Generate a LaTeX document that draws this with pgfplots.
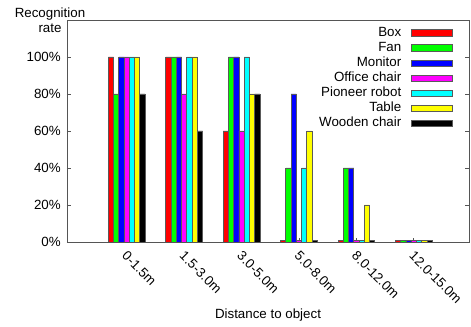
\documentclass[border=0pt]{standalone}
\usepackage{pgfplots}
\pgfplotsset{compat=1.18}
\usepackage{fontspec}
\setmainfont{Liberation Sans}
\definecolor{framegray}{RGB}{85,85,85}
\definecolor{bargray}{RGB}{90,90,90}
\definecolor{cRed}{RGB}{255,0,0}
\definecolor{cGreen}{RGB}{0,255,0}
\definecolor{cBlue}{RGB}{0,0,255}
\definecolor{cMagenta}{RGB}{255,0,255}
\definecolor{cCyan}{RGB}{0,255,255}
\definecolor{cYellow}{RGB}{255,255,0}
\definecolor{cBlack}{RGB}{0,0,0}
\pgfplotsset{
  mylegend/.style={legend image code/.code={\draw[##1, draw=bargray, line width=0.6pt] (0pt,-2.5pt) rectangle (30.75pt,2.5pt);}},
}
\begin{document}
\begin{tikzpicture}
\begin{axis}[
  name=ax,
  scale only axis, width=301.5pt, height=166.5pt,
  xmin=-1.04, xmax=5.96, ymin=0, ymax=120,
  ybar=0pt, bar width=0.0915,
  axis line style={draw=framegray, line width=0.6pt},
  tick style={draw=framegray, line width=0.6pt},
  tick align=inside, major tick length=3pt,
  xtick={0,1,2,3,4,5},
  xticklabels={0-1.5m,1.5-3.0m,3.0-5.0m,5.0-8.0m,8.0-12.0m,12.0-15.0m},
  xtick pos=left,
  ytick={0,20,40,60,80,100},
  ytick pos=both,
  yticklabel={\pgfmathprintnumber{\tick}\%},
  /pgf/number format/assume math mode=true,
  yticklabel style={xshift=-1.2pt},
  xticklabel style={yshift=-6pt, xshift=1pt, rotate=-45, anchor=north west, inner sep=0pt},
  legend style={draw=none, fill=none, at={(1,1)}, anchor=north east, xshift=-9.25pt, yshift=-3pt,
    row sep=2pt, column sep=7pt,
    nodes={inner sep=0pt, text height=7.2pt, text depth=2.1pt}},
  legend cell align=right,
  legend plot pos=right,
]
\addplot[fill=cRed, draw=bargray, line width=0.6pt, mylegend] coordinates {(0,100)(1,100)(2,60)(3,1)(4,1)(5,1)};
\addplot[fill=cGreen, draw=bargray, line width=0.6pt, mylegend] coordinates {(0,80)(1,100)(2,100)(3,40)(4,40)(5,1)};
\addplot[fill=cBlue, draw=bargray, line width=0.6pt, mylegend] coordinates {(0,100)(1,100)(2,100)(3,80)(4,40)(5,1)};
\addplot[fill=cMagenta, draw=bargray, line width=0.6pt, mylegend] coordinates {(0,100)(1,80)(2,60)(3,1)(4,1)(5,1)};
\addplot[fill=cCyan, draw=bargray, line width=0.6pt, mylegend] coordinates {(0,100)(1,100)(2,100)(3,40)(4,1)(5,1)};
\addplot[fill=cYellow, draw=bargray, line width=0.6pt, mylegend] coordinates {(0,100)(1,100)(2,80)(3,60)(4,20)(5,1)};
\addplot[fill=cBlack, draw=bargray, line width=0.6pt, mylegend] coordinates {(0,80)(1,60)(2,80)(3,1)(4,1)(5,1)};
\legend{Box,Fan,Monitor,Office chair,Pioneer robot,Table,Wooden chair}
\end{axis}
\node[align=center, font=\fontsize{10}{11.25}\selectfont] at ([xshift=-12.75pt]ax.north west) {Recognition\\rate};
\node at ([yshift=-54.75pt]ax.south) {Distance to object};
\pgfresetboundingbox
\path ([shift={(-50.25pt,-63.75pt)}]ax.south west) rectangle ([shift={(1.5pt,15pt)}]ax.north east);
\end{tikzpicture}
\end{document}
